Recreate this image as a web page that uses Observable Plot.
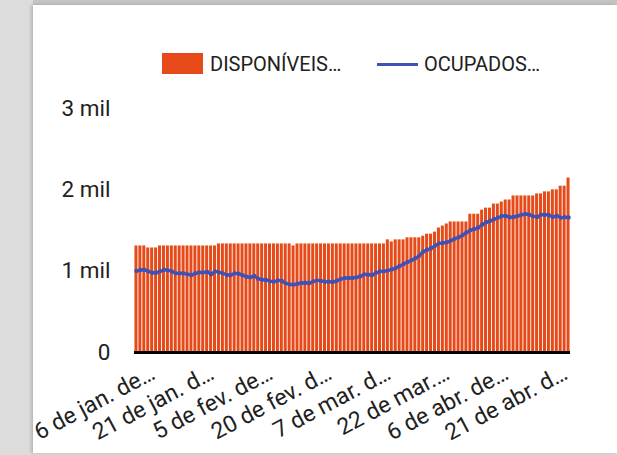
<!DOCTYPE html>
<html><head><meta charset="utf-8">
<script src="https://cdn.jsdelivr.net/npm/d3@7"></script>
<script src="https://cdn.jsdelivr.net/npm/@observablehq/plot@0.6"></script>
<style>
html,body{margin:0;padding:0;}
body{width:617px;height:455px;background:#dcdcdc;position:relative;overflow:hidden;font-family:Roboto,sans-serif;}
#topband{position:absolute;left:33px;top:0;width:584px;height:5px;background:#c3c3c3;}
#card{position:absolute;left:33px;top:5px;width:584px;height:448px;background:#fff;box-shadow:-2px 0 3px rgba(0,0,0,0.18);overflow:hidden;}
.sw{position:absolute;}
.lt{position:absolute;font-size:20px;color:#212121;line-height:20px;white-space:nowrap;}
#chart{position:absolute;left:0;top:85px;}
</style>
</head><body>
<div id="topband"></div>
<div id="card">
  <div id="legend"></div>
  <div id="chart"></div>
</div>
<script>
const startDate = "2021-01-01";
const endDate = "2021-04-21";
const seriesNames = ["DISPONÍVEIS…", "OCUPADOS…"];
const seriesColors = ["#e64a19", "#3f51b5"];
const disponiveis = [
  1310,1310,1310,1285,1285,1285,1310,1310,1310,1310,
  1310,1310,1310,1310,1310,1310,1310,1310,1310,1310,
  1310,1335,1335,1335,1335,1335,1335,1335,1335,1335,
  1335,1335,1335,1335,1335,1335,1335,1335,1335,1335,
  1310,1335,1335,1335,1335,1335,1335,1335,1335,1335,
  1335,1335,1335,1335,1335,1335,1335,1335,1335,1335,
  1335,1335,1335,1335,1385,1360,1385,1385,1385,1410,
  1410,1410,1410,1430,1455,1455,1480,1530,1555,1580,
  1605,1605,1605,1605,1605,1700,1700,1700,1750,1775,
  1775,1825,1825,1850,1875,1875,1925,1925,1925,1925,
  1925,1925,1950,1950,1975,1975,2000,2000,2045,2045,
  2145
];
const ocupados = [
  1002,1014,1018,998,981,981,998,1018,1010,998,
  973,973,973,961,953,973,985,985,990,961,
  998,985,973,953,953,973,969,949,932,924,
  940,908,895,891,875,871,887,879,850,838,
  834,846,854,858,854,875,887,879,871,871,
  867,883,903,916,916,916,924,937,961,957,
  953,981,998,998,1010,1022,1039,1064,1088,1113,
  1133,1158,1191,1240,1264,1281,1313,1342,1346,1355,
  1375,1400,1416,1443,1474,1503,1519,1535,1572,1601,
  1617,1638,1658,1678,1678,1662,1666,1678,1695,1703,
  1695,1674,1666,1695,1695,1687,1666,1682,1658,1662,
  1660
];
const xTickIndex = [5, 20, 35, 50, 65, 80, 95, 110];
const xTickLabels = ["6 de jan. de…", "21 de jan. d…", "5 de fev. de…", "20 de fev. d…", "7 de mar. d…", "22 de mar.…", "6 de abr. de…", "21 de abr. d…"];
const yTicks = [0, 1000, 2000, 3000];
const yTickLabels = ["0", "1 mil", "2 mil", "3 mil"];

const dates = d3.utcDay.range(new Date(startDate), d3.utcDay.offset(new Date(endDate), 1));
const data = dates.map((d, i) => ({i, date: d, disp: disponiveis[i], ocup: ocupados[i]}));

// legend
const lg = document.getElementById("legend");
lg.innerHTML = `
  <div class="sw" style="left:129px;top:48px;width:41px;height:21px;background:${seriesColors[0]}"></div>
  <div class="lt" style="left:177px;top:49px">${seriesNames[0]}</div>
  <div class="sw" style="left:344px;top:58px;width:41px;height:3px;background:${seriesColors[1]}"></div>
  <div class="lt" style="left:391px;top:49px">${seriesNames[1]}</div>`;

const chart = Plot.plot({
  width: 584,
  height: 363,
  marginTop: 18,
  marginBottom: 101,
  marginLeft: 101,
  marginRight: 47,
  style: {fontFamily: "Roboto, sans-serif", color: "#212121", background: "transparent", overflow: "hidden"},
  x: {type: "linear", domain: [-0.5, data.length - 0.5], axis: null},
  y: {domain: [0, 3000], axis: null},
  marks: [
    Plot.rectY(data, {x1: d => d.i - 0.5, x2: d => d.i + 0.5, y: "disp", fill: seriesColors[0], insetLeft: 0.45, insetRight: 0.45}),
    Plot.ruleY([0], {stroke: "#000", strokeWidth: 3}),
    Plot.line(data, {x: "i", y: "ocup", stroke: seriesColors[1], strokeWidth: 3}),
    Plot.dot(data, {x: "i", y: "ocup", fill: seriesColors[1], r: 2.2}),
    Plot.axisY(yTicks, {tickSize: 0, tickPadding: 24, fontSize: 22.5, label: null, tickFormat: (d) => yTickLabels[yTicks.indexOf(d)]}),
    Plot.axisX(xTickIndex, {tickSize: 0, tickPadding: 19, dx: -3, fontSize: 23, tickRotate: -28, label: null, tickFormat: d => xTickLabels[xTickIndex.indexOf(d)]})
  ]
});
document.getElementById("chart").appendChild(chart);
</script>
</body></html>
